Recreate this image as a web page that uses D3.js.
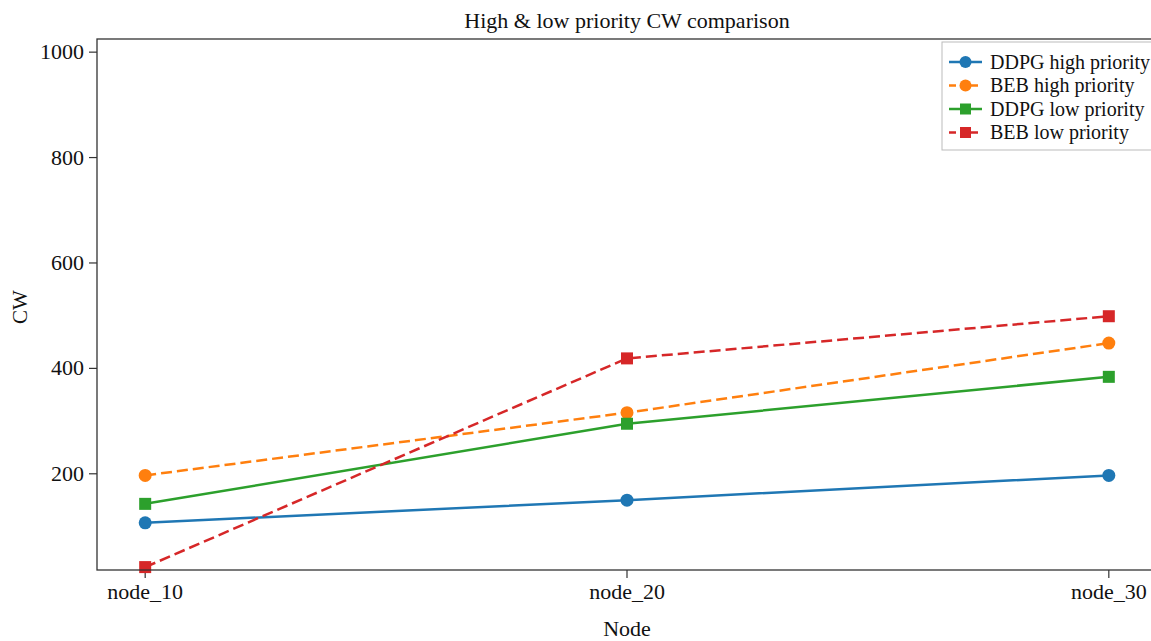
<!DOCTYPE html>
<html><head><meta charset="utf-8">
<script src="https://cdn.jsdelivr.net/npm/d3@7"></script>
<style>body{margin:0;background:#fff}svg{display:block}text{font-family:"Liberation Serif","Times New Roman",serif;fill:#111}</style>
</head><body><svg id="c" width="1151" height="641"></svg>
<script>
const categories = ["node_10", "node_20", "node_30"];
const ddpgHigh = [106, 149, 196];
const bebHigh = [196, 315, 447];
const ddpgLow = [142, 294, 383];
const bebLow = [22, 418, 498];
const yTicks = [200, 400, 600, 800, 1000];
const seriesNames = ["DDPG high priority", "BEB high priority", "DDPG low priority", "BEB low priority"];

const series = [
  {name: seriesNames[0], values: ddpgHigh, color: "#1f77b4", dash: null, marker: "circle"},
  {name: seriesNames[1], values: bebHigh, color: "#ff7f0e", dash: "11,5", marker: "circle"},
  {name: seriesNames[2], values: ddpgLow, color: "#2ca02c", dash: null, marker: "square"},
  {name: seriesNames[3], values: bebLow, color: "#d62728", dash: "11,5", marker: "square"}
];

const svg = d3.select("#c");
const L = 97, R = 1157, T = 39, B = 570;
// matplotlib-style 5% margins around the category positions
const xi = d3.scaleLinear().domain([-0.1, 2.1]).range([L, R]);
const xp = c => xi(categories.indexOf(c));
const y = d3.scaleLinear().domain([16.5, 1024]).range([B, T]);

// title
svg.append("text").attr("x", 627).attr("y", 28).attr("text-anchor", "middle").attr("font-size", 22).text("High & low priority CW comparison");

// y axis
const ya = svg.append("g").attr("transform", `translate(${L},0)`).call(d3.axisLeft(y).tickValues(yTicks).tickSize(8).tickPadding(5).tickFormat(d3.format("d")));
ya.select(".domain").remove();
ya.selectAll(".tick line").attr("stroke", "#333").attr("stroke-width", 1.2);
ya.selectAll(".tick text").attr("font-size", 22).attr("font-family", "Liberation Serif").attr("fill", "#111");

// x axis
const xa = svg.append("g").attr("transform", `translate(0,${B})`);
categories.forEach(c => {
  const g = xa.append("g").attr("transform", `translate(${xp(c)},0)`);
  g.append("line").attr("y2", 8).attr("stroke", "#333").attr("stroke-width", 1.2);
  g.append("text").attr("y", 29).attr("text-anchor", "middle").attr("font-size", 22).text(c);
});

// axis labels
svg.append("text").attr("x", 627).attr("y", 636).attr("text-anchor", "middle").attr("font-size", 22).text("Node");
svg.append("text").attr("transform", "translate(27,307) rotate(-90)").attr("text-anchor", "middle").attr("font-size", 21).text("CW");

// lines
const line = d3.line().x((d, i) => xp(categories[i])).y(d => y(d));
series.forEach(s => {
  svg.append("path").attr("d", line(s.values)).attr("fill", "none").attr("stroke", s.color).attr("stroke-width", 2.5).attr("stroke-dasharray", s.dash);
  const g = svg.append("g");
  s.values.forEach((v, i) => {
    const cx = xp(categories[i]), cy = y(v);
    if (s.marker === "circle") g.append("circle").attr("cx", cx).attr("cy", cy).attr("r", 6.5).attr("fill", s.color);
    else g.append("rect").attr("x", cx - 6).attr("y", cy - 6).attr("width", 12).attr("height", 12).attr("fill", s.color);
  });
});

// spines
svg.append("rect").attr("x", L).attr("y", T).attr("width", R - L).attr("height", B - T).attr("fill", "none").attr("stroke", "#333").attr("stroke-width", 1.3);

// legend
const lg = svg.append("g");
lg.append("rect").attr("x", 942).attr("y", 42).attr("width", 230).attr("height", 108).attr("fill", "#fff").attr("stroke", "#bbb").attr("stroke-width", 1);
const rows = [62, 85.5, 109, 132.5];
series.forEach((s, i) => {
  const yy = rows[i];
  lg.append("line").attr("x1", 949).attr("x2", 982).attr("y1", yy).attr("y2", yy).attr("stroke", s.color).attr("stroke-width", 2.5).attr("stroke-dasharray", s.dash ? "7,4" : null);
  if (s.marker === "circle") lg.append("circle").attr("cx", 965.5).attr("cy", yy).attr("r", 6).attr("fill", s.color);
  else lg.append("rect").attr("x", 960).attr("y", yy - 5.5).attr("width", 11).attr("height", 11).attr("fill", s.color);
  lg.append("text").attr("x", 990).attr("y", yy + 6.5).attr("font-size", 20).text(s.name);
});
</script></body></html>
